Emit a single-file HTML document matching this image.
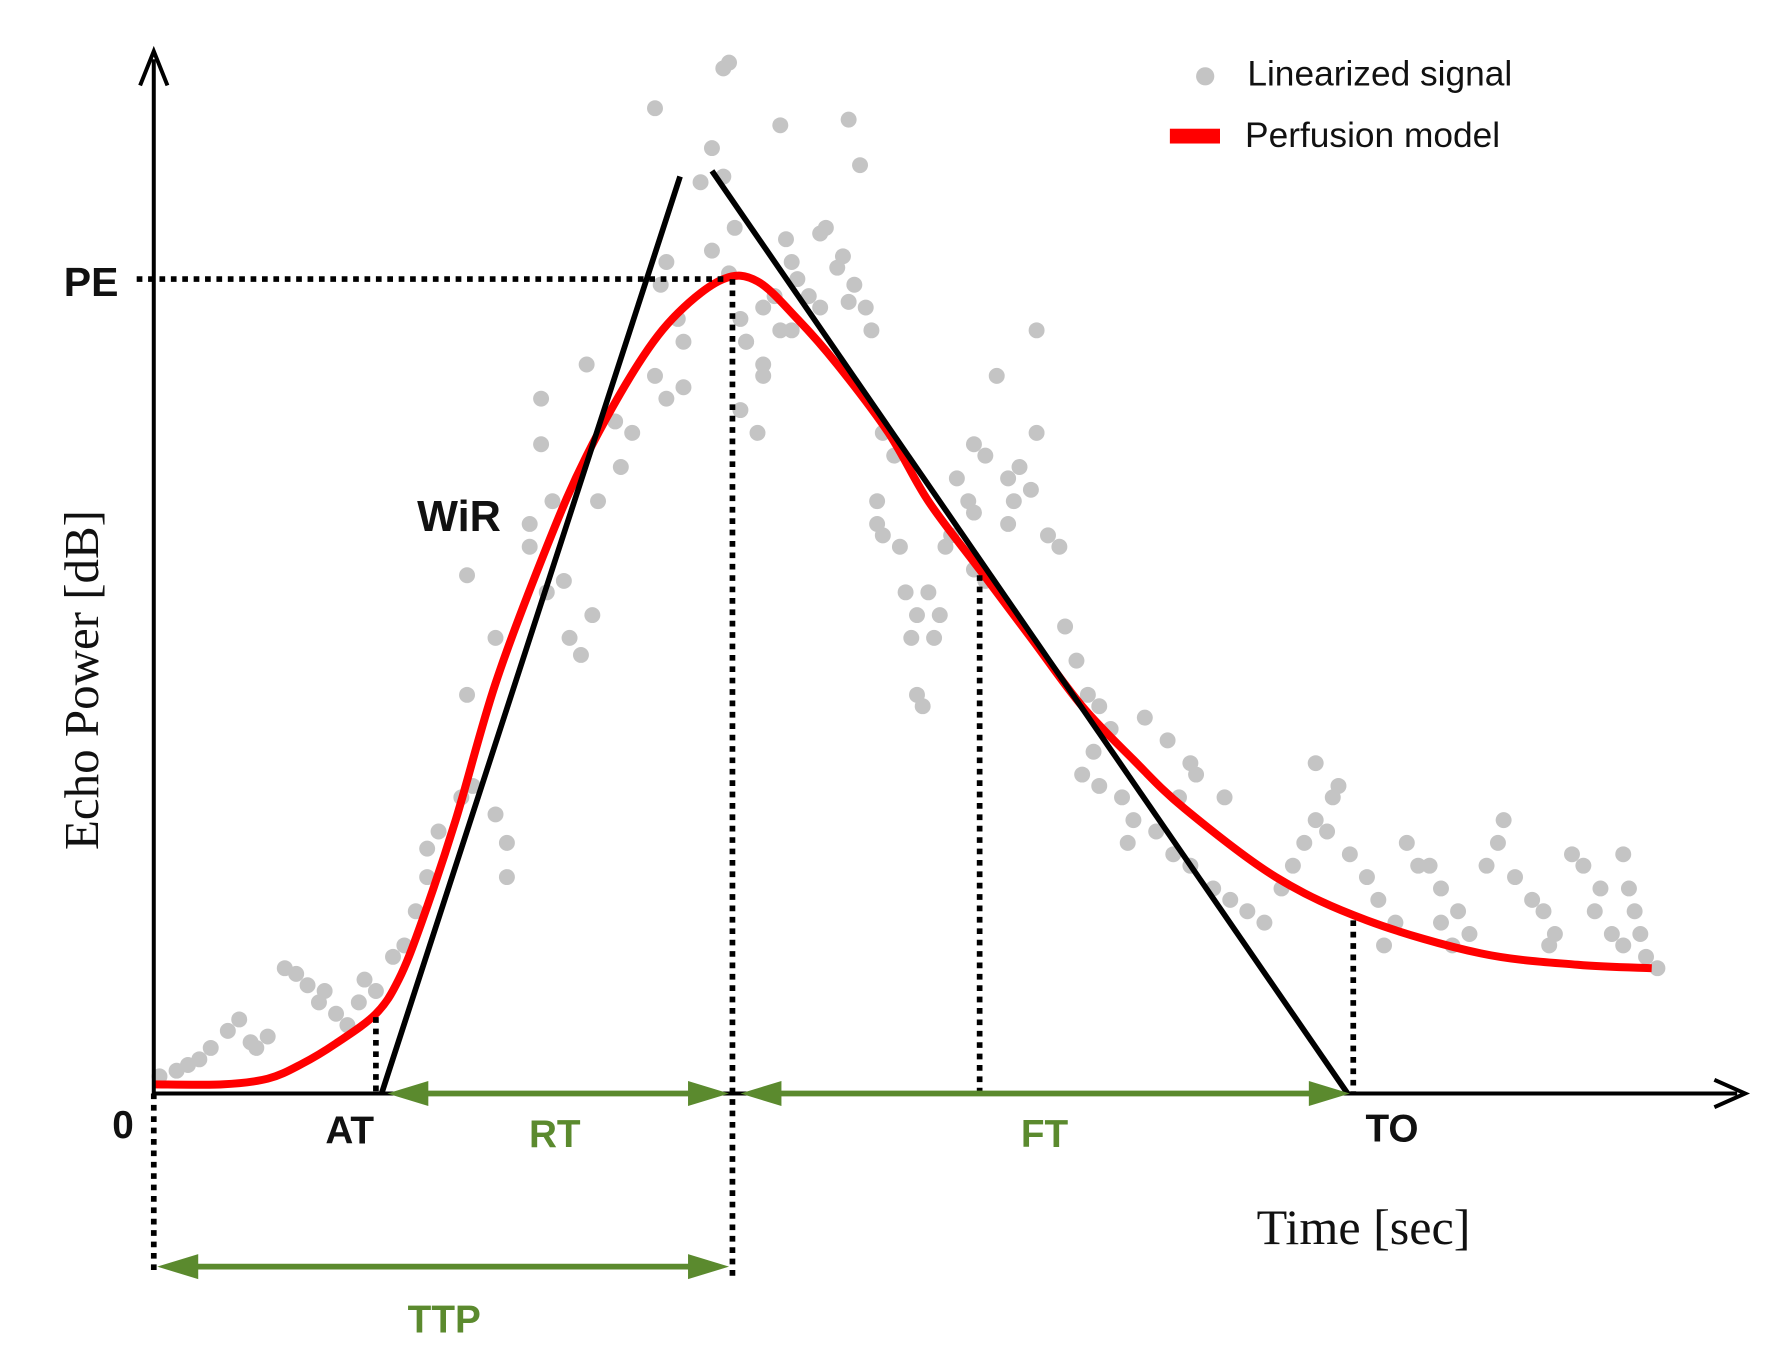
<!DOCTYPE html>
<html><head><meta charset="utf-8"><style>
html,body{margin:0;padding:0;background:#fff;}
svg{display:block;}
.b{font-family:"Liberation Sans",sans-serif;font-weight:bold;}
.s{font-family:"Liberation Serif",serif;}
</style></head><body>
<svg id="chart" width="1785" height="1368" viewBox="0 0 1567 1201" preserveAspectRatio="none" xmlns="http://www.w3.org/2000/svg">
<g id="scatter"></g>
<g id="overlay"></g>
<g>
<circle cx="1058" cy="67" r="8" fill="#c4c4c4"/>
<text x="1095" y="75" font-family="Liberation Sans, sans-serif" font-size="31" fill="#111">Linearized signal</text>
<rect x="1027" y="113" width="44" height="13" fill="#ff0000"/>
<text x="1093" y="129" font-family="Liberation Sans, sans-serif" font-size="31" fill="#111">Perfusion model</text>
</g>
<text class="s" transform="translate(86,597) rotate(-90)" text-anchor="middle" font-size="43" fill="#111">Echo Power [dB]</text>
<text class="s" x="1197" y="1092" text-anchor="middle" font-size="44" fill="#111">Time [sec]</text>
<text class="b" x="80" y="260" text-anchor="middle" font-size="36" fill="#111">PE</text>
<text class="b" x="108" y="999" text-anchor="middle" font-size="34" fill="#111">0</text>
<text class="b" x="307" y="1004" text-anchor="middle" font-size="34" fill="#111">AT</text>
<text class="b" x="1222" y="1002" text-anchor="middle" font-size="34" fill="#111">TO</text>
<text class="b" x="403" y="466" text-anchor="middle" font-size="38" fill="#111">WiR</text>
<text class="b" x="487" y="1007" text-anchor="middle" font-size="34" fill="#5b8a2e">RT</text>
<text class="b" x="917" y="1007" text-anchor="middle" font-size="34" fill="#5b8a2e">FT</text>
<text class="b" x="390" y="1170" text-anchor="middle" font-size="34" fill="#5b8a2e">TTP</text>
</svg>
<script>
// time (sec units) and echo power (dB units)
const modelT = [0,6,10,13,16,19.5,21.5,23.5,26.5,30,34.5,38,42.5,46,50,53,56.5,60,64.5,68,72.5,77,81.5,86,90.5,98.5,106.5,116.5,125,131.5];
const modelV = [0.8,0.8,1.3,2.6,4.4,7,10,15,24,36,48,56,64,68.5,71.5,71.3,68,64,58,52,46,40,34,29.3,25,19,15.2,12.3,11.3,11];
const sigT = [0.5,2,3,4,5,6.5,7.5,8.5,9,10,11.5,12.5,13.5,14.5,15,16,17,18,18.5,19.5,21,22,23,24,24,25,27,28,30,31,31,27.5,30,27.5,33,33,35,34,34,38,34.5,36.5,37.5,36,38.5,39,41,42,40.5,45,44,46.5,46,44.5,45,44,46.5,49,48,49,50,51,50.5,51.5,52,53.5,50,50.5,52,53.5,51.5,53,53.5,54.5,55,56,55,55.5,56.5,57.5,58.5,56,61,62,58.5,60,61,59,60.5,61.5,62.5,63,64,65,63.5,63.5,64,65.5,66,67,66.5,67,67.5,68,69,68.5,70,69.5,70.5,71.5,72,72,73,73,72,74,75,75.5,75,77.5,77.5,76,77,78.5,79.5,80,81,82,83,84,82.5,81.5,83,85,86,85.5,87,89,91,90,88,89.5,91,93,91.5,94,94.5,96,97.5,99,100,101,102,103.5,102,104,103,105,106.5,107.5,109,108,111,110,112,113,114.5,115.5,113,114,117,118,118.5,119.5,121,122,123,122.5,124.5,125.5,127,126.5,128,129,129,129.5,130,130.5,131,132];
const sigV = [1.5,2,2.5,3,4,5.5,6.5,4.5,4,5,11,10.5,9.5,8,9,7,6,8,10,9,12,13,16,19,21.5,23,26,27,24.5,22,19,35,40,45.5,50,48,52,57,61,64,44,40,38.5,45,42,52,55,58,59,61,63,66,68,71,73,86.5,62,74,80,83,80.5,76,72,68,66,63,90,90.5,66,64,60,58,69,70,67,73,85,75,71.5,70,69,67,85.5,81.5,75.5,72.5,69.5,76,73.5,71,69,67,58,56,52,50,49,48,44,42,40,35,34,44,42,40,49,48,54,52,51,46,45,56,57,63,54,52,50,67,58,55,53,49,48,41,38,35,34,32,30,28,27,26,24,22,33,31,29,26,23,21,20,18,28,26,17,16,15,18,20,22,24,26,29,27,23,21,19,17,15,13,20,22,20,18,16,14,15,13,20,22,24,19,17,16,14,13,21,20,18,16,14,13,21,18,16,14,12,11];

const X0=135, Y0=960;
const xs = t => X0 + t*10;
const ys = v => Y0 - v*10;
const NS="http://www.w3.org/2000/svg";
function mk(tag, attrs, parent){const e=document.createElementNS(NS,tag);for(const k in attrs)e.setAttribute(k,attrs[k]);parent.appendChild(e);return e;}

const sc=document.getElementById('scatter');
for(let i=0;i<sigT.length;i++){
  const c=mk('circle',{cx:xs(sigT[i]),cy:ys(sigV[i]),r:7,fill:'#c4c4c4'},sc);
  
  
}
const ov=document.getElementById('overlay');
function line(x1,y1,x2,y2,stroke,w,dash,name){
  const a={x1,y1,x2,y2,stroke,'stroke-width':w};
  if(dash)a['stroke-dasharray']=dash;
  const l=mk('line',a,ov);
  
  
  return l;
}
// smooth model curve (Catmull-Rom)
const P=modelT.map((t,i)=>[xs(t),ys(modelV[i])]);
let d='M'+P[0][0]+','+P[0][1];
for(let i=0;i<P.length-1;i++){
  const p0=P[Math.max(0,i-1)],p1=P[i],p2=P[i+1],p3=P[Math.min(P.length-1,i+2)];
  const c1=[p1[0]+(p2[0]-p0[0])/6,p1[1]+(p2[1]-p0[1])/6];
  const c2=[p2[0]-(p3[0]-p1[0])/6,p2[1]-(p3[1]-p1[1])/6];
  d+='C'+c1[0]+','+c1[1]+' '+c2[0]+','+c2[1]+' '+p2[0]+','+p2[1];
}
const curve=mk('path',{d,fill:'none',stroke:'#ff0000','stroke-width':7,'stroke-linejoin':'round'},ov);


// dotted guides
line(120,245,640,245,'#000',5,'5 5','pe-guide');
line(135,960,135,1118,'#000',5,'5 5','zero-guide');
line(643,245,643,1122,'#000',5,'5 5','ttp-guide');
line(330,893,330,960,'#000',5,'5 5','at-guide');
line(860,505,860,960,'#000',5,'5 5','mid-guide');
line(1188,808,1188,960,'#000',5,'5 5','to-guide');
// tangent lines
line(335,960,597,155,'#000',5,null,'wash-in-tangent');
line(625,150,1183,960,'#000',5,null,'wash-out-tangent');
// axes
line(135,962,135,52,'#000',3.5,null,'y-axis');
line(135,960,1525,960,'#000',3.5,null,'x-axis');
const ya=mk('path',{d:'M123,75 L135,45 L147,75',fill:'none',stroke:'#000','stroke-width':3.5},ov);


const xa=mk('path',{d:'M1505,948 L1532,960 L1505,972',fill:'none',stroke:'#000','stroke-width':3.5},ov);


// green interval arrows
function garrow(x1,x2,y,name){
  line(x1+10,y,x2-10,y,'#5b8a2e',5,null,name);
  const h1=mk('path',{d:`M${x1},${y} L${x1+36},${y-11} L${x1+36},${y+11} Z`,fill:'#5b8a2e'},ov);
  
  
  const h2=mk('path',{d:`M${x2},${y} L${x2-36},${y-11} L${x2-36},${y+11} Z`,fill:'#5b8a2e'},ov);
  
  
}
garrow(340,640,960,'rt-arrow');
garrow(650,1185,960,'ft-arrow');
garrow(138,640,1112,'ttp-arrow');
</script>
</body></html>
